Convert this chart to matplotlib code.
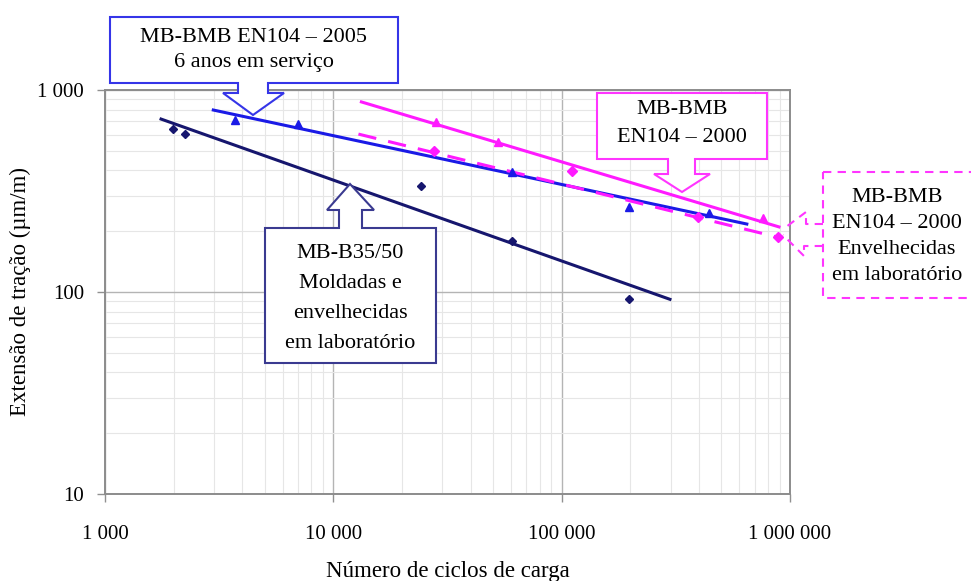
import matplotlib
matplotlib.use("Agg")
import matplotlib.pyplot as plt
import matplotlib.ticker as ticker
from matplotlib.patches import Polygon
from matplotlib.lines import Line2D

plt.rcParams["font.family"] = ["Liberation Serif", "DejaVu Serif"]

# Ensaios de fadiga: pontos medidos e leis de fadiga ajustadas
b3550_ciclos = [1990, 2240, 24100, 60300, 196700]
b3550_ext = [641, 605, 335, 179, 92]
b3550_fit_ciclos = [1760, 298000]
b3550_fit_ext = [718, 92]

bmb2005_ciclos = [3720, 7020, 60300, 196700, 441000]
bmb2005_ext = [710, 680, 393, 264, 246]
bmb2005_fit_ciclos = [2980, 647000]
bmb2005_fit_ext = [796, 217]

bmb2000_ciclos = [28300, 52400, 762000]
bmb2000_ext = [695, 553, 232]
bmb2000_fit_ciclos = [13270, 895000]
bmb2000_fit_ext = [873, 210]

bmb2000env_ciclos = [27500, 110600, 395000, 885000]
bmb2000env_ext = [499, 397, 235, 187]
bmb2000env_fit_ciclos = [12880, 914000]
bmb2000env_fit_ext = [605, 185]

x_ticks = [1000, 10000, 100000, 1000000]
y_ticks = [10, 100, 1000]

NAVY = "#16166e"
BLUE = "#1a1ae6"
MAGENTA = "#ff1aff"

W, H = 971, 581
fig = plt.figure(figsize=(W / 100, H / 100), dpi=100)
ax = fig.add_axes([105 / W, 1 - 494 / H, (790 - 105) / W, (494 - 90) / H])

ax.set_xscale("log")
ax.set_yscale("log")
ax.set_xlim(1000, 1000000)
ax.set_ylim(10, 1000)

ax.plot(b3550_fit_ciclos, b3550_fit_ext, color=NAVY, lw=2.2, zorder=3)
ax.plot(b3550_ciclos, b3550_ext, "D", color=NAVY, ms=4.5, zorder=4)

ax.plot(bmb2005_fit_ciclos, bmb2005_fit_ext, color=BLUE, lw=2.2, zorder=3)
ax.plot(bmb2005_ciclos, bmb2005_ext, "^", color=BLUE, ms=6, zorder=4)

ax.plot(bmb2000_fit_ciclos, bmb2000_fit_ext, color=MAGENTA, lw=2.2, zorder=3)
ax.plot(bmb2000_ciclos, bmb2000_ext, "^", color=MAGENTA, ms=6, zorder=4)

ax.plot(bmb2000env_fit_ciclos, bmb2000env_fit_ext, color=MAGENTA, lw=2.2,
        dashes=(6, 4), zorder=3)
ax.plot(bmb2000env_ciclos, bmb2000env_ext, "D", color=MAGENTA, ms=5, zorder=4)

def milhares(v, pos):
    return f"{int(round(v)):,}".replace(",", " ")

ax.xaxis.set_major_locator(ticker.FixedLocator(x_ticks))
ax.yaxis.set_major_locator(ticker.FixedLocator(y_ticks))
ax.xaxis.set_major_formatter(ticker.FuncFormatter(milhares))
ax.yaxis.set_major_formatter(ticker.FuncFormatter(milhares))
ax.xaxis.set_minor_locator(ticker.LogLocator(base=10, subs=range(2, 10)))
ax.yaxis.set_minor_locator(ticker.LogLocator(base=10, subs=range(2, 10)))
ax.xaxis.set_minor_formatter(ticker.NullFormatter())
ax.yaxis.set_minor_formatter(ticker.NullFormatter())

ax.grid(True, which="major", color="#b4b4b4", lw=1.0)
ax.grid(True, which="minor", color="#e6e6e6", lw=0.8)
ax.tick_params(which="major", direction="out", length=6, width=1, color="#909090",
               labelsize=15)
ax.tick_params(axis="x", which="major", pad=16)
ax.tick_params(axis="y", which="major", pad=9)
ax.tick_params(which="minor", length=0)
for s in ax.spines.values():
    s.set_color("#8c8c8c")
    s.set_linewidth(1.4)

ax.set_xlabel("Número de ciclos de carga", fontsize=16.5, va="center")
ax.set_ylabel("Extensão de tração (µm/m)", fontsize=16.5, va="center")
ax.xaxis.set_label_coords(0.5, (494 - 571) / 404)
ax.yaxis.set_label_coords((20 - 105) / 685, 0.5)


def px(x, y):
    return (x / W, 1 - y / H)


def callout(points, edge, dashed=False):
    shape = Polygon([px(*p) for p in points], closed=True, transform=fig.transFigure,
                    facecolor="white", edgecolor=edge, lw=1.5,
                    linestyle=(0, (4, 3)) if dashed else "-", zorder=5)
    fig.add_artist(shape)


def legenda(x, ys, linhas):
    for y, t in zip(ys, linhas):
        fig.text(*px(x, y), t, ha="center", va="center", fontsize=16, zorder=6)


# MB-BMB EN104 - 2005
callout([(110, 17), (398, 17), (398, 83), (268, 83), (268, 93), (284, 93),
         (253, 115), (223, 93), (238, 93), (238, 83), (110, 83)], "#3535e8")
legenda(254, [37, 63], ["MB-BMB EN104 – 2005", "6 anos em serviço"])

# MB-B35/50
callout([(265, 228), (339, 228), (339, 210), (327, 210), (350, 184), (374, 210),
         (362, 210), (362, 228), (436, 228), (436, 363), (265, 363)], "#3a3a90")
legenda(350, [254, 283, 313, 343],
        ["MB-B35/50", "Moldadas e", "envelhecidas", "em laboratório"])

# MB-BMB EN104 - 2000
callout([(597, 93), (767, 93), (767, 159), (695, 159), (695, 174), (710, 174),
         (682, 192), (654, 174), (668, 174), (668, 159), (597, 159)], "#ff35ff")
legenda(682, [110, 138], ["MB-BMB", "EN104 – 2000"])

# MB-BMB EN104 - 2000 envelhecidas
callout([(823, 172), (985, 172), (985, 298), (823, 298)], "#ff35ff", dashed=True)
for pts in ([(823, 224), (806, 224), (806, 212), (786, 227)],
            [(823, 246), (804, 246), (804, 256), (783, 235)]):
    xs, ys = zip(*[px(*p) for p in pts])
    fig.add_artist(Line2D(xs, ys, transform=fig.transFigure, color="#ff35ff",
                          lw=1.5, linestyle=(0, (4, 3)), zorder=5))
legenda(897, [197, 223, 249, 275],
        ["MB-BMB", "EN104 – 2000", "Envelhecidas", "em laboratório"])

fig.savefig("out.png", dpi=100, facecolor="white")
